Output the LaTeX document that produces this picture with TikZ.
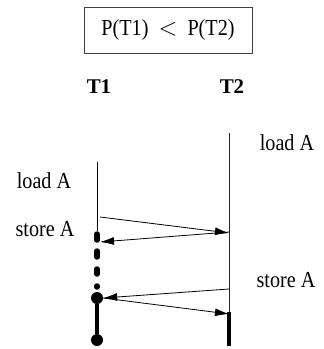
\documentclass[tikz,border=0pt]{standalone}
\usepackage{fontspec}
\setmainfont{Liberation Serif}
\newfontfamily\narrowserif[FakeStretch=0.88]{Liberation Serif}
\usetikzlibrary{arrows.meta}
\begin{document}
\begin{tikzpicture}[x=1bp,y=-1bp,
  lbl/.style={font=\narrowserif\fontsize{23}{26}\selectfont, inner sep=0pt},
  hdr/.style={font=\fontsize{21}{24}\selectfont\bfseries, inner sep=0pt},
  thin/.style={line width=0.8bp},
  msg/.style={line width=0.8bp, -{Latex[length=14bp,width=8bp]}},
  heavy/.style={line width=4bp},
  dashseg/.style={line width=5.5bp, line cap=round},
  blob/.style={circle, fill=black, inner sep=0pt, minimum size=12bp}]
\useasboundingbox (0,0) rectangle (324,349);
% title box
\node[draw=black!75, line width=0.8bp, minimum width=168bp, minimum height=46bp, inner sep=0pt,
      font=\narrowserif\fontsize{23}{26}\selectfont] (title) at (168,30) {P(T1)\ \ $<$\ \ P(T2)};
% headers
\node[hdr] (h1) at (99,87) {T1};
\node[hdr] (h2) at (232,87) {T2};
% labels
\node[lbl] (l1) at (287,143) {load A};
\node[lbl] (l2) at (44,181) {load A};
\node[lbl] (l3) at (45,229) {store A};
\node[lbl] (l4) at (286,280) {store A};
% T1 lifeline
\coordinate (t1top) at (97,162);
\coordinate (t1a) at (97,231);
\coordinate (t1s) at (100,217);
\coordinate (t1r) at (100,242);
\node[blob] (d1) at (97,298) {};
\node[blob] (d2) at (97,340) {};
\coordinate (s1a) at (97,234); \coordinate (s1b) at (97,240);
\coordinate (s2a) at (97,251); \coordinate (s2b) at (97,257);
\coordinate (s3a) at (97,269); \coordinate (s3b) at (97,274);
\coordinate (s4a) at (97,286); \coordinate (s4b) at (97,287);
% T2 lifeline
\coordinate (t2top) at (229,133);
\coordinate (t2bot) at (229,313);
\coordinate (t2r) at (229,233);
\coordinate (t2s) at (229,232);
\coordinate (t2s2) at (229,289);
\coordinate (t2r2) at (229,314);
\coordinate (t2h) at (229,312);
\coordinate (t2end) at (229,346);
\draw[thin] (t1top) -- (t1a);
\draw[thin, black!85] (t2top) -- (t2bot);
\draw[dashseg] (s1a) -- (s1b);
\draw[dashseg] (s2a) -- (s2b);
\draw[dashseg] (s3a) -- (s3b);
\draw[dashseg] (s4a) -- (s4b);
\draw[heavy] (d1) -- (d2);
\draw[heavy] (t2h) -- (t2end);
% messages
\draw[msg] (t1s) -- (t2r);
\draw[msg] (t2s) -- (t1r);
\draw[msg] (t2s2) -- (d1.east);
\draw[msg] (d1.east) -- (t2r2);
\end{tikzpicture}
\end{document}
